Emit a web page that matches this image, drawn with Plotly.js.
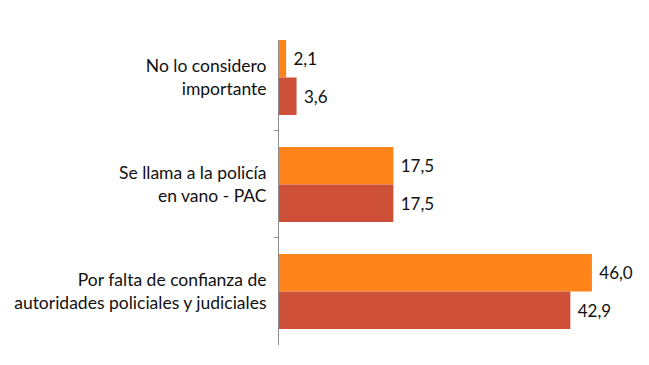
<!DOCTYPE html>
<html>
<head>
<meta charset="utf-8">
<script src="https://cdn.plot.ly/plotly-3.0.1.min.js"></script>
<style>html,body{margin:0;padding:0;background:#fff;}#chart{width:649px;height:365px;}</style>
</head>
<body>
<div id="chart"></div>
<script>
const categories = [
  "No lo considero<br>importante",
  "Se llama a la policía<br>en vano - PAC",
  "Por falta de confianza de<br>autoridades policiales y judiciales"
];
const seriesA = [2.1, 17.5, 46.0];
const seriesB = [3.6, 17.5, 42.9];
const colorA = "#FF841A";
const colorB = "#CF5038";

const fontFam = "Lato, 'Open Sans', sans-serif";

const common = {
  type: "bar",
  orientation: "h",
  y: categories,
  texttemplate: "\u00a0%{x:.1f}",
  textposition: "outside",
  cliponaxis: false,
  textfont: {family: fontFam, size: 17, color: "#111"},
  hoverinfo: "none"
};

const data = [
  Object.assign({}, common, {x: seriesA, marker: {color: colorA}, name: "A"}),
  Object.assign({}, common, {x: seriesB, marker: {color: colorB}, name: "B"})
];

const layout = {
  width: 649, height: 365,
  margin: {l: 279, r: 9, t: 40, b: 20, pad: 0},
  paper_bgcolor: "#fff", plot_bgcolor: "#fff",
  separators: ",.",
  showlegend: false,
  barmode: "group",
  bargap: 0.3,
  bargroupgap: 0,
  font: {family: fontFam, size: 17, color: "#111"},
  xaxis: {
    range: [1.08, 52.9],
    visible: false,
    showgrid: false, zeroline: false
  },
  yaxis: {
    type: "category",
    range: [2.5, -0.35],
    showline: true, linecolor: "#8C8C8C", linewidth: 1,
    ticks: "outside", ticklen: 4, tickcolor: "#8C8C8C",
    tickson: "boundaries",
    showgrid: false, zeroline: false,
    ticklabelstandoff: 8,
    tickfont: {family: fontFam, size: 17.5, color: "#111"}
  }
};

Plotly.newPlot("chart", data, layout, {displayModeBar: false, staticPlot: true});
</script>
</body>
</html>
